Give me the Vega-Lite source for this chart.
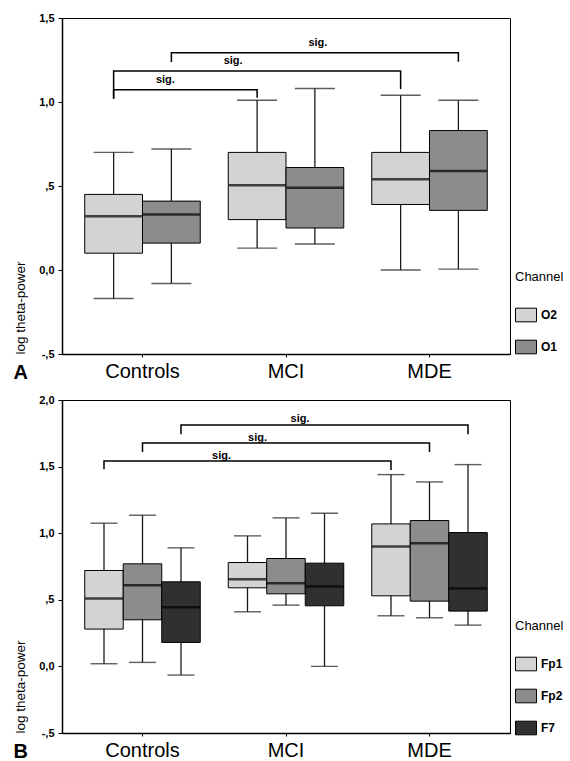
{
  "$schema": "https://vega.github.io/schema/vega-lite/v6.json",
  "padding": {"left": 12, "top": 11, "right": 5, "bottom": 0},
  "spacing": 10,
  "config": {
    "font": "Liberation Sans",
    "view": {"stroke": "black", "strokeWidth": 1},
    "axis": {"grid": false, "domainColor": "black", "tickColor": "black", "labelColor": "black", "titleColor": "black"},
    "axisY": {"labelFontSize": 11, "labelFontWeight": "bold", "labelPadding": 4, "tickSize": 4, "domainWidth": 1.5,
              "titleFontSize": 13.5, "titleFontWeight": "normal", "titleAngle": -90, "titleX": -35,
              "titleAlign": "left", "titleBaseline": "bottom"},
    "axisX": {"labelAngle": 0, "labelFontSize": 20, "labelPadding": 4, "tickSize": 3, "domainWidth": 1.5,
              "titleFontSize": 20, "titleFontWeight": "bold", "titleX": -49, "titleY": 24, "titleAlign": "left", "titleBaseline": "alphabetic"},
    "legend": {"orient": "none", "legendX": 453, "titleFontSize": 13, "titleFontWeight": "normal",
               "titlePadding": 20, "labelFontSize": 12, "labelFontWeight": "bold", "symbolType": "M-1,-0.65H1V0.65H-1Z",
               "symbolSize": 441, "symbolStrokeColor": "black", "symbolStrokeWidth": 1, "rowPadding": 12, "labelOffset": 4}
  },
  "datasets": {
    "boxesA": [
      {"group": "Controls", "channel": "O2", "lo": -0.17, "q1": 0.10, "med": 0.32, "q3": 0.45, "hi": 0.70},
      {"group": "Controls", "channel": "O1", "lo": -0.08, "q1": 0.16, "med": 0.33, "q3": 0.41, "hi": 0.72},
      {"group": "MCI", "channel": "O2", "lo": 0.13, "q1": 0.30, "med": 0.505, "q3": 0.70, "hi": 1.01},
      {"group": "MCI", "channel": "O1", "lo": 0.155, "q1": 0.25, "med": 0.49, "q3": 0.61, "hi": 1.08},
      {"group": "MDE", "channel": "O2", "lo": 0.0, "q1": 0.39, "med": 0.54, "q3": 0.70, "hi": 1.04},
      {"group": "MDE", "channel": "O1", "lo": 0.005, "q1": 0.355, "med": 0.59, "q3": 0.83, "hi": 1.01}
    ],
    "bracketsA": [
      {"id": 1, "k": 1, "group": "Controls", "channel": "O2", "y": 1.02},
      {"id": 1, "k": 2, "group": "Controls", "channel": "O2", "y": 1.073},
      {"id": 1, "k": 3, "group": "MCI", "channel": "O2", "y": 1.073},
      {"id": 1, "k": 4, "group": "MCI", "channel": "O2", "y": 1.025},
      {"id": 2, "k": 1, "group": "Controls", "channel": "O2", "y": 1.02},
      {"id": 2, "k": 2, "group": "Controls", "channel": "O2", "y": 1.185},
      {"id": 2, "k": 3, "group": "MDE", "channel": "O2", "y": 1.185},
      {"id": 2, "k": 4, "group": "MDE", "channel": "O2", "y": 1.077},
      {"id": 3, "k": 1, "group": "Controls", "channel": "O1", "y": 1.238},
      {"id": 3, "k": 2, "group": "Controls", "channel": "O1", "y": 1.293},
      {"id": 3, "k": 3, "group": "MDE", "channel": "O1", "y": 1.293},
      {"id": 3, "k": 4, "group": "MDE", "channel": "O1", "y": 1.24}
    ],
    "boxesB": [
      {"group": "Controls", "channel": "Fp1", "lo": 0.02, "q1": 0.28, "med": 0.51, "q3": 0.72, "hi": 1.075},
      {"group": "Controls", "channel": "Fp2", "lo": 0.03, "q1": 0.35, "med": 0.61, "q3": 0.77, "hi": 1.135},
      {"group": "Controls", "channel": "F7", "lo": -0.065, "q1": 0.18, "med": 0.445, "q3": 0.635, "hi": 0.89},
      {"group": "MCI", "channel": "Fp1", "lo": 0.41, "q1": 0.59, "med": 0.655, "q3": 0.78, "hi": 0.98},
      {"group": "MCI", "channel": "Fp2", "lo": 0.46, "q1": 0.545, "med": 0.625, "q3": 0.81, "hi": 1.115},
      {"group": "MCI", "channel": "F7", "lo": 0.0, "q1": 0.455, "med": 0.60, "q3": 0.775, "hi": 1.15},
      {"group": "MDE", "channel": "Fp1", "lo": 0.38, "q1": 0.53, "med": 0.90, "q3": 1.07, "hi": 1.44},
      {"group": "MDE", "channel": "Fp2", "lo": 0.365, "q1": 0.49, "med": 0.925, "q3": 1.095, "hi": 1.385},
      {"group": "MDE", "channel": "F7", "lo": 0.31, "q1": 0.415, "med": 0.585, "q3": 1.005, "hi": 1.515}
    ],
    "bracketsB": [
      {"id": 1, "k": 1, "group": "Controls", "channel": "Fp1", "y": 1.48},
      {"id": 1, "k": 2, "group": "Controls", "channel": "Fp1", "y": 1.542},
      {"id": 1, "k": 3, "group": "MDE", "channel": "Fp1", "y": 1.542},
      {"id": 1, "k": 4, "group": "MDE", "channel": "Fp1", "y": 1.475},
      {"id": 2, "k": 1, "group": "Controls", "channel": "Fp2", "y": 1.61},
      {"id": 2, "k": 2, "group": "Controls", "channel": "Fp2", "y": 1.677},
      {"id": 2, "k": 3, "group": "MDE", "channel": "Fp2", "y": 1.677},
      {"id": 2, "k": 4, "group": "MDE", "channel": "Fp2", "y": 1.61},
      {"id": 3, "k": 1, "group": "Controls", "channel": "F7", "y": 1.743},
      {"id": 3, "k": 2, "group": "Controls", "channel": "F7", "y": 1.8125},
      {"id": 3, "k": 3, "group": "MDE", "channel": "F7", "y": 1.8125},
      {"id": 3, "k": 4, "group": "MDE", "channel": "F7", "y": 1.743}
    ]
  },
  "resolve": {
    "scale": {"x": "independent", "y": "independent", "xOffset": "independent", "color": "independent"},
    "legend": {"color": "independent"}
  },
  "vconcat": [
    {
      "width": 448,
      "height": 336,
      "encoding": {
        "x": {
          "field": "group", "type": "nominal",
          "scale": {"domain": ["Controls", "MCI", "MDE"], "paddingInner": 0.195, "paddingOuter": 0.1585},
          "axis": {"title": "A"}
        },
        "xOffset": {"field": "channel", "type": "nominal", "scale": {"domain": ["O2", "O1"], "paddingInner": 0, "paddingOuter": 0}}
      },
      "layer": [
        {
          "data": {"name": "boxesA"},
          "mark": {"type": "rule", "color": "#1a1a1a", "strokeWidth": 1.3},
          "encoding": {
            "y": {"field": "lo", "type": "quantitative", "scale": {"domain": [-0.5, 1.5], "nice": false, "zero": false},
                  "axis": {"title": "log theta-power", "values": [-0.5, 0, 0.5, 1, 1.5], "titleY": 336,
                           "labelExpr": "datum.value == 0.5 ? ',5' : datum.value == -0.5 ? '-,5' : replace(format(datum.value, '.1f'), '.', ',')"}},
            "y2": {"field": "hi"}
          }
        },
        {
          "data": {"name": "boxesA"},
          "mark": {"type": "tick", "size": 40, "thickness": 1.4, "color": "#1a1a1a"},
          "encoding": {"y": {"field": "hi", "type": "quantitative", "scale": {"domain": [-0.5, 1.5], "nice": false, "zero": false},
                  "axis": {"title": "log theta-power", "values": [-0.5, 0, 0.5, 1, 1.5], "titleY": 336,
                           "labelExpr": "datum.value == 0.5 ? ',5' : datum.value == -0.5 ? '-,5' : replace(format(datum.value, '.1f'), '.', ',')"}}}
        },
        {
          "data": {"name": "boxesA"},
          "mark": {"type": "tick", "size": 40, "thickness": 1.4, "color": "#1a1a1a"},
          "encoding": {"y": {"field": "lo", "type": "quantitative", "scale": {"domain": [-0.5, 1.5], "nice": false, "zero": false},
                  "axis": {"title": "log theta-power", "values": [-0.5, 0, 0.5, 1, 1.5], "titleY": 336,
                           "labelExpr": "datum.value == 0.5 ? ',5' : datum.value == -0.5 ? '-,5' : replace(format(datum.value, '.1f'), '.', ',')"}}}
        },
        {
          "data": {"name": "boxesA"},
          "mark": {"type": "bar", "stroke": "black", "strokeWidth": 1},
          "encoding": {
            "y": {"field": "q1", "type": "quantitative", "scale": {"domain": [-0.5, 1.5], "nice": false, "zero": false},
                  "axis": {"title": "log theta-power", "values": [-0.5, 0, 0.5, 1, 1.5], "titleY": 336,
                           "labelExpr": "datum.value == 0.5 ? ',5' : datum.value == -0.5 ? '-,5' : replace(format(datum.value, '.1f'), '.', ',')"}},
            "y2": {"field": "q3"},
            "color": {"field": "channel", "type": "nominal",
                      "scale": {"domain": ["O2", "O1"], "range": ["#d3d3d3", "#8c8c8c"]},
                      "legend": {"title": "Channel", "legendY": 253}}
          }
        },
        {
          "data": {"name": "boxesA"},
          "mark": {"type": "tick", "size": 57, "thickness": 2.5, "color": "black"},
          "encoding": {"y": {"field": "med", "type": "quantitative", "scale": {"domain": [-0.5, 1.5], "nice": false, "zero": false},
                  "axis": {"title": "log theta-power", "values": [-0.5, 0, 0.5, 1, 1.5], "titleY": 336,
                           "labelExpr": "datum.value == 0.5 ? ',5' : datum.value == -0.5 ? '-,5' : replace(format(datum.value, '.1f'), '.', ',')"}}}
        },
        {
          "data": {"name": "bracketsA"},
          "mark": {"type": "line", "color": "black", "strokeWidth": 1.5},
          "encoding": {
            "y": {"field": "y", "type": "quantitative", "scale": {"domain": [-0.5, 1.5], "nice": false, "zero": false},
                  "axis": {"title": "log theta-power", "values": [-0.5, 0, 0.5, 1, 1.5], "titleY": 336,
                           "labelExpr": "datum.value == 0.5 ? ',5' : datum.value == -0.5 ? '-,5' : replace(format(datum.value, '.1f'), '.', ',')"}},
            "detail": {"field": "id"},
            "order": {"field": "k"}
          }
        },
        {
          "data": {"values": [{"group": "Controls", "channel": "O1", "y": 1.131}]},
          "mark": {"type": "text", "text": "sig.", "fontSize": 11, "fontWeight": "bold", "dx": -6, "baseline": "middle"},
          "encoding": {"y": {"field": "y", "type": "quantitative", "scale": {"domain": [-0.5, 1.5], "nice": false, "zero": false},
                  "axis": {"title": "log theta-power", "values": [-0.5, 0, 0.5, 1, 1.5], "titleY": 336,
                           "labelExpr": "datum.value == 0.5 ? ',5' : datum.value == -0.5 ? '-,5' : replace(format(datum.value, '.1f'), '.', ',')"}}}
        },
        {
          "data": {"values": [{"group": "MCI", "channel": "O2", "y": 1.244}]},
          "mark": {"type": "text", "text": "sig.", "fontSize": 11, "fontWeight": "bold", "dx": -24, "baseline": "middle"},
          "encoding": {"y": {"field": "y", "type": "quantitative", "scale": {"domain": [-0.5, 1.5], "nice": false, "zero": false},
                  "axis": {"title": "log theta-power", "values": [-0.5, 0, 0.5, 1, 1.5], "titleY": 336,
                           "labelExpr": "datum.value == 0.5 ? ',5' : datum.value == -0.5 ? '-,5' : replace(format(datum.value, '.1f'), '.', ',')"}}}
        },
        {
          "data": {"values": [{"group": "MCI", "channel": "O1", "y": 1.351}]},
          "mark": {"type": "text", "text": "sig.", "fontSize": 11, "fontWeight": "bold", "dx": 3, "baseline": "middle"},
          "encoding": {"y": {"field": "y", "type": "quantitative", "scale": {"domain": [-0.5, 1.5], "nice": false, "zero": false},
                  "axis": {"title": "log theta-power", "values": [-0.5, 0, 0.5, 1, 1.5], "titleY": 336,
                           "labelExpr": "datum.value == 0.5 ? ',5' : datum.value == -0.5 ? '-,5' : replace(format(datum.value, '.1f'), '.', ',')"}}}
        }
      ]
    },
    {
      "width": 448,
      "height": 333,
      "encoding": {
        "x": {
          "field": "group", "type": "nominal",
          "scale": {"domain": ["Controls", "MCI", "MDE"], "paddingInner": 0.195, "paddingOuter": 0.1585},
          "axis": {"title": "B"}
        },
        "xOffset": {"field": "channel", "type": "nominal", "scale": {"domain": ["Fp1", "Fp2", "F7"], "paddingInner": 0, "paddingOuter": 0}}
      },
      "layer": [
        {
          "data": {"name": "boxesB"},
          "mark": {"type": "rule", "color": "#1a1a1a", "strokeWidth": 1.3},
          "encoding": {
            "y": {"field": "lo", "type": "quantitative", "scale": {"domain": [-0.5, 2.0], "nice": false, "zero": false},
                  "axis": {"title": "log theta-power", "values": [-0.5, 0, 0.5, 1, 1.5, 2], "titleY": 333,
                           "labelExpr": "datum.value == 0.5 ? ',5' : datum.value == -0.5 ? '-,5' : replace(format(datum.value, '.1f'), '.', ',')"}},
            "y2": {"field": "hi"}
          }
        },
        {
          "data": {"name": "boxesB"},
          "mark": {"type": "tick", "size": 27, "thickness": 1.4, "color": "#1a1a1a"},
          "encoding": {"y": {"field": "hi", "type": "quantitative", "scale": {"domain": [-0.5, 2.0], "nice": false, "zero": false},
                  "axis": {"title": "log theta-power", "values": [-0.5, 0, 0.5, 1, 1.5, 2], "titleY": 333,
                           "labelExpr": "datum.value == 0.5 ? ',5' : datum.value == -0.5 ? '-,5' : replace(format(datum.value, '.1f'), '.', ',')"}}}
        },
        {
          "data": {"name": "boxesB"},
          "mark": {"type": "tick", "size": 27, "thickness": 1.4, "color": "#1a1a1a"},
          "encoding": {"y": {"field": "lo", "type": "quantitative", "scale": {"domain": [-0.5, 2.0], "nice": false, "zero": false},
                  "axis": {"title": "log theta-power", "values": [-0.5, 0, 0.5, 1, 1.5, 2], "titleY": 333,
                           "labelExpr": "datum.value == 0.5 ? ',5' : datum.value == -0.5 ? '-,5' : replace(format(datum.value, '.1f'), '.', ',')"}}}
        },
        {
          "data": {"name": "boxesB"},
          "mark": {"type": "bar", "stroke": "black", "strokeWidth": 1},
          "encoding": {
            "y": {"field": "q1", "type": "quantitative", "scale": {"domain": [-0.5, 2.0], "nice": false, "zero": false},
                  "axis": {"title": "log theta-power", "values": [-0.5, 0, 0.5, 1, 1.5, 2], "titleY": 333,
                           "labelExpr": "datum.value == 0.5 ? ',5' : datum.value == -0.5 ? '-,5' : replace(format(datum.value, '.1f'), '.', ',')"}},
            "y2": {"field": "q3"},
            "color": {"field": "channel", "type": "nominal",
                      "scale": {"domain": ["Fp1", "Fp2", "F7"], "range": ["#d3d3d3", "#8c8c8c", "#303030"]},
                      "legend": {"title": "Channel", "legendY": 220}}
          }
        },
        {
          "data": {"name": "boxesB"},
          "mark": {"type": "tick", "size": 38, "thickness": 2.5, "color": "black"},
          "encoding": {"y": {"field": "med", "type": "quantitative", "scale": {"domain": [-0.5, 2.0], "nice": false, "zero": false},
                  "axis": {"title": "log theta-power", "values": [-0.5, 0, 0.5, 1, 1.5, 2], "titleY": 333,
                           "labelExpr": "datum.value == 0.5 ? ',5' : datum.value == -0.5 ? '-,5' : replace(format(datum.value, '.1f'), '.', ',')"}}}
        },
        {
          "data": {"name": "bracketsB"},
          "mark": {"type": "line", "color": "black", "strokeWidth": 1.5},
          "encoding": {
            "y": {"field": "y", "type": "quantitative", "scale": {"domain": [-0.5, 2.0], "nice": false, "zero": false},
                  "axis": {"title": "log theta-power", "values": [-0.5, 0, 0.5, 1, 1.5, 2], "titleY": 333,
                           "labelExpr": "datum.value == 0.5 ? ',5' : datum.value == -0.5 ? '-,5' : replace(format(datum.value, '.1f'), '.', ',')"}},
            "detail": {"field": "id"},
            "order": {"field": "k"}
          }
        },
        {
          "data": {"values": [{"group": "MCI", "channel": "Fp1", "y": 1.58}]},
          "mark": {"type": "text", "text": "sig.", "fontSize": 11, "fontWeight": "bold", "dx": -26, "baseline": "middle"},
          "encoding": {"y": {"field": "y", "type": "quantitative", "scale": {"domain": [-0.5, 2.0], "nice": false, "zero": false},
                  "axis": {"title": "log theta-power", "values": [-0.5, 0, 0.5, 1, 1.5, 2], "titleY": 333,
                           "labelExpr": "datum.value == 0.5 ? ',5' : datum.value == -0.5 ? '-,5' : replace(format(datum.value, '.1f'), '.', ',')"}}}
        },
        {
          "data": {"values": [{"group": "MCI", "channel": "Fp1", "y": 1.718}]},
          "mark": {"type": "text", "text": "sig.", "fontSize": 11, "fontWeight": "bold", "dx": 10, "baseline": "middle"},
          "encoding": {"y": {"field": "y", "type": "quantitative", "scale": {"domain": [-0.5, 2.0], "nice": false, "zero": false},
                  "axis": {"title": "log theta-power", "values": [-0.5, 0, 0.5, 1, 1.5, 2], "titleY": 333,
                           "labelExpr": "datum.value == 0.5 ? ',5' : datum.value == -0.5 ? '-,5' : replace(format(datum.value, '.1f'), '.', ',')"}}}
        },
        {
          "data": {"values": [{"group": "MCI", "channel": "Fp2", "y": 1.855}]},
          "mark": {"type": "text", "text": "sig.", "fontSize": 11, "fontWeight": "bold", "dx": 14, "baseline": "middle"},
          "encoding": {"y": {"field": "y", "type": "quantitative", "scale": {"domain": [-0.5, 2.0], "nice": false, "zero": false},
                  "axis": {"title": "log theta-power", "values": [-0.5, 0, 0.5, 1, 1.5, 2], "titleY": 333,
                           "labelExpr": "datum.value == 0.5 ? ',5' : datum.value == -0.5 ? '-,5' : replace(format(datum.value, '.1f'), '.', ',')"}}}
        }
      ]
    }
  ]
}
